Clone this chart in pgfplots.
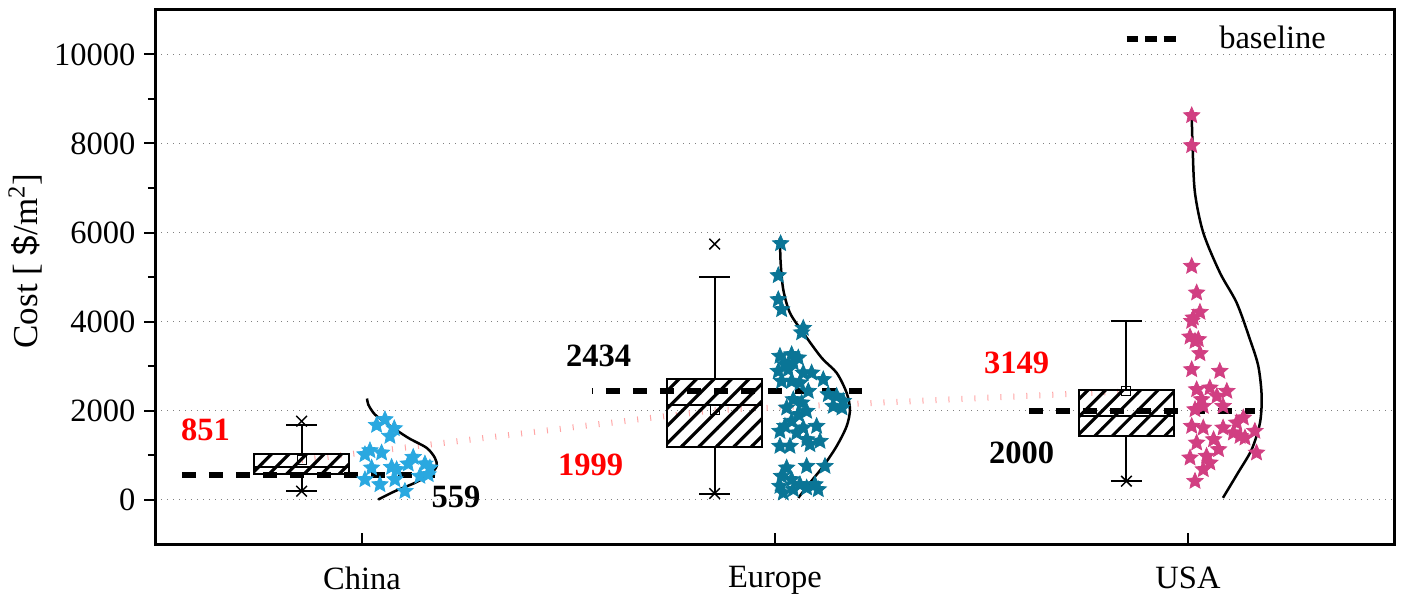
\documentclass[border=0pt]{standalone}
\usepackage{fontspec}
\setmainfont{Liberation Serif}
\newfontfamily\sansfont{Liberation Sans}
\usepackage{pgfplots}
\pgfplotsset{compat=1.18}
\usetikzlibrary{patterns}
\pgfdeclarepatternformonly{widelines}{\pgfqpoint{-1pt}{-1pt}}{\pgfqpoint{8pt}{8pt}}{\pgfqpoint{7pt}{7pt}}{
  \pgfsetlinewidth{1.25pt}
  \pgfpathmoveto{\pgfqpoint{-0.1pt}{-0.1pt}}
  \pgfpathlineto{\pgfqpoint{7.1pt}{7.1pt}}
  \pgfusepath{stroke}}
\pgfdeclareplotmark{fstar}{%
  \pgfpathmoveto{\pgfqpointpolar{90}{\pgfplotmarksize}}%
  \pgfpathlineto{\pgfqpointpolar{126}{0.46\pgfplotmarksize}}%
  \pgfpathlineto{\pgfqpointpolar{162}{\pgfplotmarksize}}%
  \pgfpathlineto{\pgfqpointpolar{198}{0.46\pgfplotmarksize}}%
  \pgfpathlineto{\pgfqpointpolar{234}{\pgfplotmarksize}}%
  \pgfpathlineto{\pgfqpointpolar{270}{0.46\pgfplotmarksize}}%
  \pgfpathlineto{\pgfqpointpolar{306}{\pgfplotmarksize}}%
  \pgfpathlineto{\pgfqpointpolar{342}{0.46\pgfplotmarksize}}%
  \pgfpathlineto{\pgfqpointpolar{18}{\pgfplotmarksize}}%
  \pgfpathlineto{\pgfqpointpolar{54}{0.46\pgfplotmarksize}}%
  \pgfpathclose
  \pgfusepathqfillstroke}
\definecolor{cchina}{RGB}{42,168,224}
\definecolor{ceurope}{RGB}{10,117,150}
\definecolor{cusa}{RGB}{209,63,130}
\definecolor{meanline}{RGB}{255,165,165}
\definecolor{lblred}{RGB}{255,0,0}

\pgfplotstableread{
x y
1.0557 1798
1.0355 1670
1.0783 1596
1.0678 1423
1.0194 1101
1.0476 1049
1.0073 1011
1.1242 951
1.1525 802
1.1121 802
1.0234 712
1.0718 726
1.0840 674
1.1646 712
1.0073 449
1.0436 337
1.0799 449
1.1404 524
1.1041 187
1.1605 562
}\chinastars

\pgfplotstableread{
x y
2.0137 5753
2.0080 5034
2.0080 4494
2.0162 4270
2.0686 3850
2.0646 3750
2.0121 3221
2.0404 3258
2.0565 3184
2.0242 3034
2.0444 3071
2.0081 2884
2.0322 2921
2.0686 2846
2.0888 2846
2.1170 2697
2.0161 2659
2.0404 2659
2.0605 2622
2.0807 2434
2.1291 2360
2.1494 2322
2.1654 2210
2.1622 2060
2.1412 2097
2.0444 2247
2.0646 2172
2.0283 2060
2.0565 1910
2.0767 1985
2.0404 1760
2.0242 1648
2.0121 1536
2.0686 1610
2.1009 1648
2.0525 1498
2.0767 1348
2.1090 1311
2.0121 1199
2.0363 1199
2.0847 1236
2.0283 712
2.0767 749
2.1211 749
2.0161 524
2.0404 449
2.0121 300
2.0605 337
2.0969 337
2.0202 150
2.0444 225
2.0767 263
2.1049 225
}\europestars

\pgfplotstableread{
x y
3.009 8629
3.009 7955
3.009 5243
3.021 4645
3.029 4210
3.013 4083
3.009 4007
3.005 3655
3.025 3596
3.017 3558
3.029 3281
3.009 2921
3.077 2884
3.021 2472
3.053 2509
3.094 2434
3.070 2322
3.033 2247
3.037 2097
3.085 2097
3.017 2022
3.134 1836
3.009 1648
3.037 1610
3.085 1610
3.110 1498
3.162 1536
3.021 1273
3.062 1348
3.074 1124
3.138 1386
3.005 937
3.045 974
3.166 1049
3.037 674
3.017 412
3.053 824
3.126 1423
3.118 1723
}\usastars

\begin{document}
\begin{tikzpicture}
\begin{axis}[name=ax, scale only axis, width=495.6pt, height=213.6pt,
  xmin=0.5, xmax=3.5, ymin=-1000, ymax=11000,
  xtick={1,2,3}, xticklabels={China,Europe,USA},
  xtick align=inside, ytick align=outside,
  xtick pos=bottom, ytick pos=left,
  ytick={0,2000,4000,6000,8000,10000}, minor ytick={1000,3000,5000,7000,9000},
  major tick length=4.5pt, minor tick length=3pt,
  every tick/.style={black, line width=0.8pt},
  axis line style={line width=1.2pt},
  ymajorgrids, major grid style={dotted, gray, line width=0.5pt},
  scaled y ticks=false,
  unbounded coords=jump,
  /pgf/number format/assume math mode=true,
  /pgf/number format/1000 sep={},
  tick label style={font=\fontsize{13}{15}\selectfont},
  xticklabel style={yshift=-5.5pt},
  ylabel={Cost [ {\sansfont\$}/m\textsuperscript{2}]},
  ylabel style={font=\fontsize{14}{16}\selectfont, at={(axis description cs:-0.105,0.53)}, anchor=center},
  legend style={draw=none, fill=none, at={(0.955,0.99)}, anchor=north east, font=\fontsize{13}{15}\selectfont},
  legend cell align=left,
  clip=false,
]
% mean connection line
\addplot[meanline, line width=2.4pt, dash pattern=on 0.4pt off 4.8pt, forget plot] coordinates {(0.854,888) (1.854,2007) (2.851,2430)};

% boxes
\addplot[black, line width=0.8pt, pattern=widelines, forget plot] coordinates {(0.739,578) (0.969,578) (0.969,1027) (0.739,1027)} -- cycle;
\addplot[black, line width=0.8pt, pattern=widelines, forget plot] coordinates {(1.739,1169) (1.969,1169) (1.969,2719) (1.739,2719)} -- cycle;
\addplot[black, line width=0.8pt, pattern=widelines, forget plot] coordinates {(2.736,1423) (2.966,1423) (2.966,2456) (2.736,2456)} -- cycle;
% medians and whiskers
\addplot[black, line width=0.8pt, forget plot] coordinates {
 (0.739,735) (0.969,735) (nan,nan)
 (0.854,1027) (0.854,1685) (nan,nan) (0.8165,1685) (0.8915,1685) (nan,nan)
 (0.854,578) (0.854,187) (nan,nan) (0.8165,187) (0.8915,187) (nan,nan)
 (1.739,2120) (1.969,2120) (nan,nan)
 (1.854,2719) (1.854,5011) (nan,nan) (1.8165,5011) (1.8915,5011) (nan,nan)
 (1.854,1169) (1.854,135) (nan,nan) (1.8165,135) (1.8915,135) (nan,nan)
 (2.736,1888) (2.966,1888) (nan,nan)
 (2.851,2456) (2.851,4007) (nan,nan) (2.8135,4007) (2.8885,4007) (nan,nan)
 (2.851,1423) (2.851,412) (nan,nan) (2.8135,412) (2.8885,412)
};

% min/max crosses
\addplot[only marks, mark=x, mark size=3pt, mark options={black, line width=0.6pt}, forget plot]
  coordinates {(0.854,1760) (0.854,187) (1.854,5740) (1.854,135) (2.851,412)};
% mean squares
\addplot[only marks, mark=square, mark size=1.8pt, mark options={black, line width=0.4pt}, forget plot]
  coordinates {(0.854,888) (1.854,2007) (2.851,2430)};

% stars
\addplot[only marks, mark=fstar, mark size=3.4pt, mark options={fill=cchina, draw=cchina, line width=0.3pt}, forget plot] table {\chinastars};
\addplot[only marks, mark=fstar, mark size=3.4pt, mark options={fill=ceurope, draw=ceurope, line width=0.3pt}, forget plot] table {\europestars};
\addplot[only marks, mark=fstar, mark size=3.4pt, mark options={fill=cusa, draw=cusa, line width=0.3pt}, forget plot] table {\usastars};

% distribution curves
\addplot[black, line width=1pt, smooth, forget plot] coordinates {
(1.0126,2270) (1.0153,2135) (1.0315,1910) (1.0637,1685) (1.1121,1386) (1.1566,1161) (1.1767,936) (1.1808,749) (1.1646,562) (1.1283,375) (1.0799,187) (1.0395,0)};
\addplot[black, line width=1pt, smooth, forget plot] coordinates {
(2.0121,5880) (2.0138,5318) (2.0201,4719) (2.0363,4195) (2.0686,3745) (2.1130,3184) (2.1494,2846) (2.1736,2397) (2.1816,2022) (2.1736,1648) (2.1494,1199) (2.1170,749) (2.0847,375) (2.0565,37)};
\addplot[black, line width=1pt, smooth, forget plot] coordinates {
(3.0090,8652) (3.0114,7865) (3.0169,6892) (3.0371,5993) (3.0775,5094) (3.1179,4420) (3.1501,3596) (3.1703,2996) (3.1784,2322) (3.1743,1723) (3.1542,1124) (3.1211,600) (3.0847,38)};

% baselines
\addplot[black, line width=2.4pt, dash pattern=on 5.6pt off 5.2pt, forget plot] coordinates {(0.564,559) (1.177,559)};
\addplot[black, line width=2.4pt, dash pattern=on 5.6pt off 5.2pt, dash phase=5.2pt, forget plot] coordinates {(1.557,2434) (2.211,2434)};
\addplot[black, line width=2.4pt, dash pattern=on 5.6pt off 5.2pt, forget plot] coordinates {(2.615,2000) (3.162,2000)};

\addlegendimage{legend image code/.code={
  \draw[black, line width=2.4pt, dash pattern=on 4.7pt off 2.7pt] (0pt,0pt) -- (19.5pt,0pt);
  \path[draw=none] (0pt,0pt) -- (35pt,0pt);}}
\addlegendentry{baseline}

% value labels
\node[text=lblred, font=\fontsize{13}{15}\selectfont\bfseries] at (axis cs:0.621,1573) {851};
\node[text=black, font=\fontsize{13}{15}\selectfont\bfseries] at (axis cs:1.228,67) {559};
\node[text=black, font=\fontsize{13}{15}\selectfont\bfseries] at (axis cs:1.573,3236) {2434};
\node[text=lblred, font=\fontsize{13}{15}\selectfont\bfseries] at (axis cs:1.554,787) {1999};
\node[text=lblred, font=\fontsize{13}{15}\selectfont\bfseries] at (axis cs:2.585,3079) {3149};
\node[text=black, font=\fontsize{13}{15}\selectfont\bfseries] at (axis cs:2.597,1056) {2000};
\end{axis}
\path (ax.south west) ++(-62pt,-21pt);
\path (ax.north east) ++(3pt,4pt);
\end{tikzpicture}
\end{document}
